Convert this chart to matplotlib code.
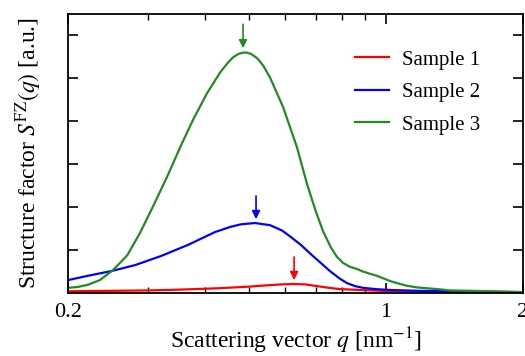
import matplotlib
matplotlib.use("Agg")
import matplotlib.pyplot as plt
from matplotlib.ticker import FixedLocator, NullFormatter

plt.rcParams['font.family'] = ['Liberation Serif', 'DejaVu Serif']
plt.rcParams['mathtext.fontset'] = 'stix'
plt.rcParams['font.size'] = 15

# Sample 1 (red)
q1 = [0.200, 0.250, 0.300, 0.332, 0.380, 0.427, 0.465, 0.502, 0.550,
      0.590, 0.625, 0.665, 0.705, 0.750, 0.792, 0.880, 0.985, 1.18,
      1.382, 1.65, 2.0]
s1 = [0.04, 0.05, 0.06, 0.07, 0.09, 0.11, 0.13, 0.15, 0.18,
      0.20, 0.21, 0.20, 0.16, 0.12, 0.09, 0.07, 0.05, 0.04,
      0.03, 0.03, 0.02]

# Sample 2 (blue)
q2 = [0.200, 0.221, 0.249, 0.281, 0.320, 0.367, 0.421, 0.455, 0.480,
      0.515, 0.556, 0.590, 0.615, 0.650, 0.681, 0.717, 0.753, 0.790,
      0.821, 0.855, 0.890, 0.950, 1.020, 1.18, 1.382, 1.65, 2.0]
s2 = [0.30, 0.40, 0.51, 0.65, 0.86, 1.12, 1.42, 1.54, 1.60,
      1.63, 1.58, 1.46, 1.32, 1.12, 0.92, 0.71, 0.51, 0.34,
      0.23, 0.16, 0.12, 0.09, 0.07, 0.05, 0.04, 0.03, 0.02]

# Sample 3 (green)
q3 = [0.200, 0.210, 0.221, 0.235, 0.251, 0.270, 0.288, 0.307, 0.330,
      0.353, 0.376, 0.404, 0.432, 0.448, 0.461, 0.474, 0.485, 0.494,
      0.505, 0.521, 0.537, 0.556, 0.594, 0.637, 0.670, 0.700, 0.727,
      0.755, 0.780, 0.805, 0.833, 0.863, 0.890, 0.920, 0.955, 1.020,
      1.057, 1.110, 1.170, 1.230, 1.300, 1.382, 1.55, 1.78, 2.0]
s3 = [0.12, 0.14, 0.19, 0.30, 0.53, 0.88, 1.40, 2.00, 2.70,
      3.40, 4.02, 4.65, 5.14, 5.35, 5.49, 5.57, 5.60, 5.60,
      5.57, 5.47, 5.30, 5.02, 4.33, 3.40, 2.55, 1.92, 1.44,
      1.08, 0.84, 0.70, 0.61, 0.56, 0.50, 0.45, 0.40, 0.28,
      0.23, 0.17, 0.13, 0.11, 0.09, 0.06, 0.05, 0.03, 0.02]

# peak markers: position, tip, tail
peak_q = [0.628, 0.518, 0.485]
peak_tip = [0.30, 1.72, 5.70]
peak_tail = [0.84, 2.26, 6.26]

labels = ['Sample 1', 'Sample 2', 'Sample 3']
colors = ['#ff0000', '#0000ff', '#228b22']

fig = plt.figure(figsize=(5.25, 3.56), dpi=100)
ax = fig.add_axes([0.1295, 0.177, 0.8667, 0.7837])

for q, s, lab, c in zip([q1, q2, q3], [s1, s2, s3], labels, colors):
    ax.plot(q, s, color=c, lw=1.6, label=lab)

for xq, tip, tail, c in zip(peak_q, peak_tip, peak_tail, colors):
    ax.annotate('', xy=(xq, tip), xytext=(xq, tail),
                arrowprops=dict(arrowstyle='-|>', color=c, lw=1.2,
                                mutation_scale=12, shrinkA=0, shrinkB=0))

ax.set_xscale('log')
ax.set_xlim(0.2, 2)
ax.set_ylim(0, 6.5)

ax.xaxis.set_major_locator(FixedLocator([0.2, 1, 2]))
ax.xaxis.set_minor_locator(FixedLocator([0.3, 0.4, 0.5, 0.6, 0.7, 0.8, 0.9]))
ax.set_xticklabels(['0.2', '1', '2'], fontsize=16)
ax.xaxis.set_minor_formatter(NullFormatter())
ax.set_yticks([1, 2, 3, 4, 5, 6])
ax.set_yticklabels([])

ax.tick_params(which='major', direction='in', top=True, right=True,
               length=7, width=1.2, pad=7)
ax.tick_params(which='minor', direction='in', top=True, right=True,
               length=4, width=1)
for sp in ax.spines.values():
    sp.set_linewidth(1.3)

ax.set_xlabel(r'Scattering vector $q$ [nm$^{-1}$]', fontsize=17, labelpad=3)
ax.set_ylabel(r'Structure factor $S^{\mathrm{FZ}}(q)$ [a.u.]', fontsize=17,
              labelpad=10)

ax.legend(loc='upper left', frameon=False, handlelength=1.63,
          handletextpad=0.63, labelspacing=0.62, borderpad=0,
          borderaxespad=0, bbox_to_anchor=(0.631, 0.871))

fig.savefig('out.png', dpi=100)
